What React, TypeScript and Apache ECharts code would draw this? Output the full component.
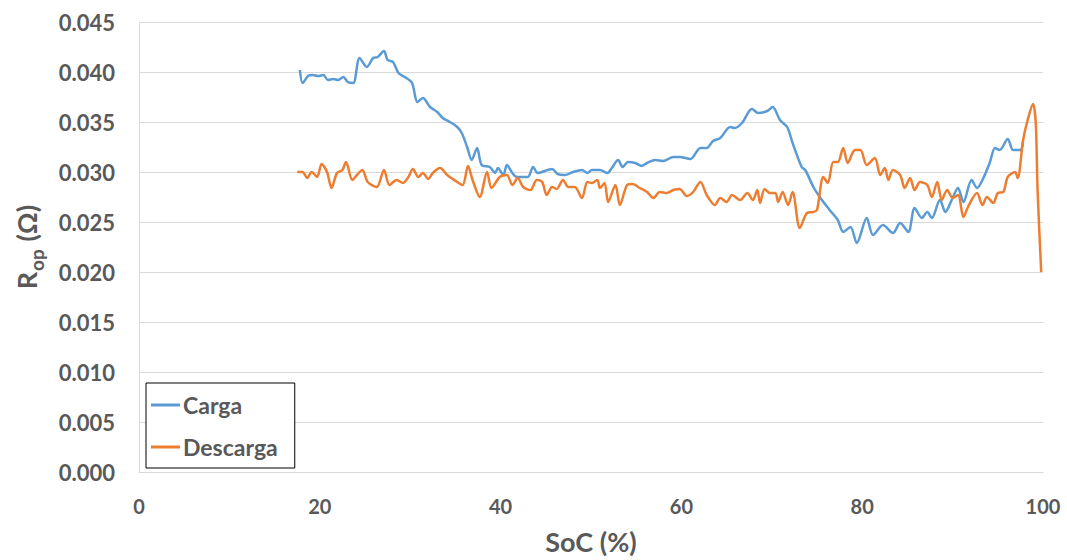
import React, { useEffect, useRef } from "react";
import * as echarts from "echarts";

const xTicks = [0, 20, 40, 60, 80, 100];
const yTicks = [0, 0.005, 0.01, 0.015, 0.02, 0.025, 0.03, 0.035, 0.04, 0.045];

const cargaSoC = [
  17.8, 18.1, 18.7, 19.2, 19.8, 20.4, 20.9, 21.5, 22.0, 22.6, 23.1, 23.7, 24.4, 25.2, 25.9, 26.4, 27.1, 27.5,
  28.1, 28.7, 29.4, 30.2, 30.8, 31.4, 32.2, 33.0, 33.6, 34.4, 35.2, 35.7, 36.3, 36.8, 37.4, 37.9, 38.8, 39.4,
  39.7, 40.3, 40.7, 41.3, 41.8, 43.0, 43.6, 44.1, 45.7, 46.3, 47.1, 48.0, 49.0, 49.6, 50.1, 51.0, 51.8, 52.3,
  53.0, 53.5, 54.1, 54.9, 55.6, 56.2, 57.1, 58.0, 59.1, 59.8, 61.0, 62.1, 62.8, 63.5, 64.3, 65.4, 65.9, 66.7,
  67.8, 68.5, 69.5, 70.1, 70.9, 71.7, 72.3, 73.3, 73.7, 74.6, 75.3, 76.4, 77.3, 77.9, 78.7, 79.4, 80.5, 81.2,
  82.3, 83.4, 84.2, 85.1, 85.8, 86.6, 87.2, 87.7, 88.6, 89.2, 89.9, 90.6, 91.2, 92.1, 92.7, 93.3, 94.1, 94.7,
  95.2, 96.1, 96.7, 97.5, 97.8,
];
const cargaRop = [
  0.0402, 0.0389, 0.0396, 0.0397, 0.0396, 0.0397, 0.0392, 0.0393, 0.0392, 0.0395, 0.039, 0.0389, 0.0414, 0.0405,
  0.0414, 0.0415, 0.0421, 0.0412, 0.041, 0.0399, 0.0395, 0.0389, 0.037, 0.0374, 0.0365, 0.036, 0.0354, 0.035,
  0.0345, 0.0339, 0.0325, 0.0312, 0.0324, 0.0307, 0.0305, 0.0299, 0.0304, 0.0297, 0.0307, 0.0299, 0.0295, 0.0295,
  0.0305, 0.0299, 0.0303, 0.0298, 0.0297, 0.03, 0.0302, 0.0299, 0.0302, 0.0302, 0.0299, 0.0304, 0.0312, 0.0305,
  0.031, 0.0309, 0.0306, 0.0309, 0.0312, 0.0311, 0.0315, 0.0315, 0.0313, 0.0324, 0.0324, 0.0331, 0.0334, 0.0345,
  0.0344, 0.0349, 0.0363, 0.0359, 0.0361, 0.0365, 0.0352, 0.0345, 0.0329, 0.0305, 0.0302, 0.0285, 0.0275, 0.0262,
  0.0252, 0.024, 0.0245, 0.0229, 0.0254, 0.0237, 0.0247, 0.0239, 0.0249, 0.024, 0.0264, 0.0254, 0.026, 0.0254,
  0.0272, 0.026, 0.0272, 0.0284, 0.027, 0.0292, 0.0284, 0.0292, 0.0309, 0.0324, 0.0322, 0.0333, 0.0322, 0.0322,
  0.033,
];

const descargaSoC = [
  17.5, 18.1, 18.6, 19.1, 19.7, 20.2, 20.8, 21.3, 21.9, 22.5, 22.9, 23.6, 24.1, 24.7, 25.3, 26.3, 27.1, 27.7,
  28.5, 29.2, 29.8, 30.3, 30.9, 31.4, 32.0, 32.5, 33.3, 34.1, 35.2, 35.8, 36.4, 36.9, 37.7, 38.5, 39.0, 39.9,
  40.7, 41.3, 41.9, 42.5, 43.3, 44.0, 44.6, 45.1, 45.7, 46.2, 46.9, 47.5, 48.2, 49.0, 49.6, 50.1, 50.7, 51.0,
  51.5, 51.9, 52.7, 53.2, 54.0, 54.6, 55.4, 56.2, 56.9, 57.6, 58.4, 59.1, 59.8, 60.6, 61.3, 62.1, 62.8, 63.7,
  64.3, 65.0, 65.6, 66.5, 67.3, 67.9, 68.4, 68.7, 69.2, 69.8, 70.4, 70.7, 71.2, 71.8, 72.3, 73.1, 73.9, 74.6,
  75.0, 75.7, 76.2, 76.8, 77.3, 77.9, 78.4, 79.2, 79.8, 80.5, 81.4, 82.0, 82.5, 82.9, 83.4, 84.2, 84.7, 85.3,
  85.8, 86.4, 87.2, 87.7, 88.3, 88.8, 89.4, 90.0, 90.6, 91.2, 91.7, 92.7, 93.3, 93.8, 94.5, 95.0, 95.6, 96.1,
  96.9, 97.2, 97.8, 98.3, 98.9, 99.2, 99.4, 99.8,
];
const descargaRop = [
  0.03, 0.03, 0.0294, 0.03, 0.0295, 0.0308, 0.03, 0.0284, 0.0299, 0.0302, 0.031, 0.0292, 0.0297, 0.0302, 0.029,
  0.0285, 0.0302, 0.0287, 0.0292, 0.0289, 0.0295, 0.0303, 0.0295, 0.0299, 0.0293, 0.0299, 0.0304, 0.0297, 0.029,
  0.0287, 0.0306, 0.0292, 0.0275, 0.03, 0.0284, 0.0295, 0.0297, 0.0287, 0.0294, 0.0285, 0.0282, 0.0292, 0.029,
  0.0277, 0.0285, 0.0283, 0.0292, 0.0285, 0.0285, 0.0274, 0.029, 0.0289, 0.0292, 0.0284, 0.0289, 0.027, 0.0287,
  0.0267, 0.0287, 0.0288, 0.0284, 0.028, 0.0274, 0.028, 0.0279, 0.0282, 0.0283, 0.0276, 0.028, 0.029, 0.0277,
  0.0267, 0.0274, 0.027, 0.0277, 0.0272, 0.0279, 0.0272, 0.0282, 0.0269, 0.0283, 0.0279, 0.0279, 0.027, 0.028,
  0.0267, 0.028, 0.0244, 0.0259, 0.026, 0.0262, 0.0295, 0.0289, 0.031, 0.031, 0.0324, 0.0309, 0.0322, 0.0322,
  0.0307, 0.0314, 0.0297, 0.0304, 0.0292, 0.0302, 0.0297, 0.0284, 0.0294, 0.0282, 0.029, 0.0287, 0.0275, 0.029,
  0.0272, 0.0282, 0.0274, 0.0277, 0.0255, 0.0265, 0.0279, 0.0267, 0.0275, 0.0269, 0.0279, 0.028, 0.0295, 0.03,
  0.0294, 0.0332, 0.0352, 0.0368, 0.0349, 0.0282, 0.02,
];

const seriesNames = ["Carga", "Descarga"];
const FONT = "Lato, 'Open Sans', sans-serif";
const GRAY = "#595959";

export default function App() {
  const ref = useRef<HTMLDivElement>(null);
  useEffect(() => {
    document.body.style.margin = "0";
    if (!ref.current) return;
    const chart = echarts.init(ref.current, undefined, { renderer: "svg" });
    const zip = (xs: number[], ys: number[]) => xs.map((x, i) => [x, ys[i]]);
    chart.setOption({
      animation: false,
      backgroundColor: "#ffffff",
      textStyle: { fontFamily: FONT },
      grid: { left: 139, right: 24, top: 22, bottom: 87, containLabel: false },
      legend: {
        orient: "vertical",
        left: 146,
        top: 383,
        padding: [10, 17, 9, 5],
        backgroundColor: "#ffffff",
        borderColor: "#000000",
        borderWidth: 1,
        itemGap: 18,
        itemWidth: 29,
        itemHeight: 3,
        icon: "rect",
        data: seriesNames,
        textStyle: { fontSize: 23, fontWeight: "bold", color: GRAY, lineHeight: 24, fontFamily: FONT, padding: [0, 0, 0, -2] },
      },
      xAxis: {
        type: "value",
        min: 0,
        max: 100,
        interval: 20,
        name: "SoC (%)",
        nameLocation: "middle",
        nameGap: 56,
        nameTextStyle: { fontSize: 27, fontWeight: "bold", color: GRAY, fontFamily: FONT },
        axisLine: { show: true, lineStyle: { color: "#d9d9d9", width: 1 } },
        axisTick: { show: false },
        splitLine: { show: false },
        axisLabel: {
          margin: 24,
          fontSize: 20,
          fontWeight: "bold",
          color: GRAY,
          fontFamily: FONT,
          customValues: xTicks,
        },
      },
      yAxis: {
        type: "value",
        min: 0,
        max: 0.045,
        interval: 0.005,
        name: "{a|R}{b|op}{a| (Ω)}",
        nameLocation: "middle",
        nameGap: 96,
        nameRotate: 90,
        nameTextStyle: {
          rich: {
            a: { fontSize: 27, fontWeight: "bold", color: GRAY, fontFamily: FONT, verticalAlign: "top", lineHeight: 30 },
            b: { fontSize: 19, fontWeight: "bold", color: GRAY, fontFamily: FONT, verticalAlign: "top", lineHeight: 20, padding: [14, 1, 0, 1] },
          },
        },
        axisLine: { show: true, lineStyle: { color: "#d9d9d9", width: 1 } },
        axisTick: { show: false },
        splitLine: { show: true, lineStyle: { color: "#d9d9d9", width: 1 } },
        axisLabel: {
          margin: 24,
          fontSize: 22,
          fontWeight: "bold",
          color: GRAY,
          fontFamily: FONT,
          formatter: (v: number) => v.toFixed(3),
          customValues: yTicks,
        },
      },
      series: [
        {
          name: seriesNames[0],
          type: "line",
          data: zip(cargaSoC, cargaRop),
          symbol: "none",
          smooth: 0.3,
          lineStyle: { color: "#5b9bd5", width: 2.5 },
          itemStyle: { color: "#5b9bd5" },
        },
        {
          name: seriesNames[1],
          type: "line",
          data: zip(descargaSoC, descargaRop),
          symbol: "none",
          smooth: 0.3,
          lineStyle: { color: "#ed7d31", width: 2.5 },
          itemStyle: { color: "#ed7d31" },
        },
      ],
    });
    return () => chart.dispose();
  }, []);
  return <div ref={ref} style={{ width: 1067, height: 560 }} />;
}
